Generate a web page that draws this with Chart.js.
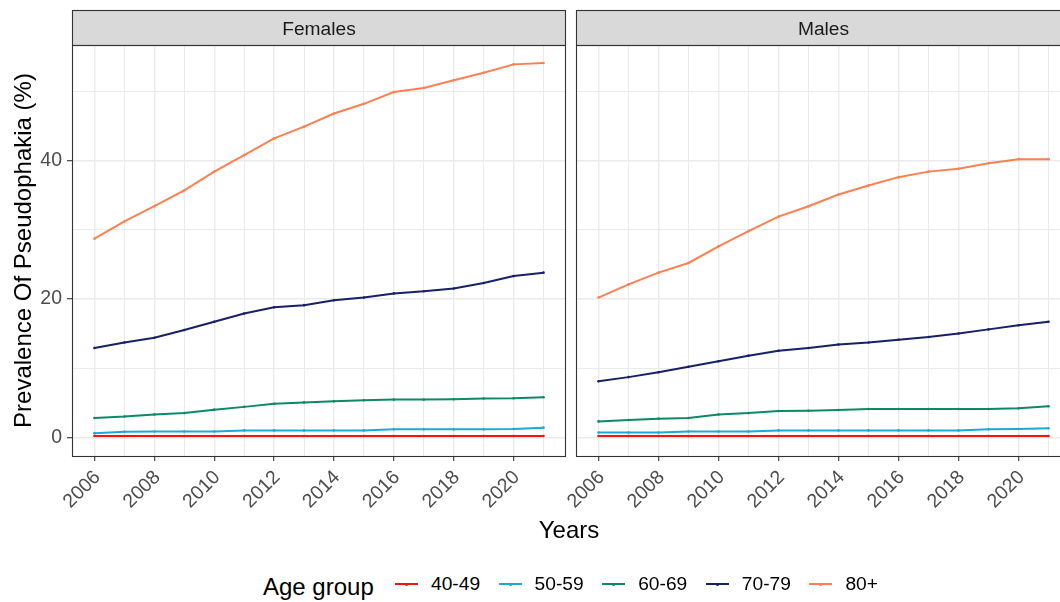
<!DOCTYPE html>
<html>
<head>
<meta charset="utf-8">
<title>Prevalence of pseudophakia</title>
<script src="https://cdn.jsdelivr.net/npm/chart.js@4.4.1/dist/chart.umd.min.js"></script>
<style>
    html, body { margin: 0; padding: 0; background: #fff; width: 1060px; height: 602px; overflow: hidden; }
    body { position: relative; font-family: "Liberation Sans", Arial, sans-serif; }
    .panel { position: absolute; top: 0; }
    #boxF { left: 0; }
    #boxM { left: 540px; }
    #xTitle { position: absolute; left: 469px; width: 200px; top: 516px; text-align: center;
              font-size: 24px; line-height: 28px; color: #000; }
    .legend-title { position: absolute; left: 263px; top: 573px; font-size: 24px; line-height: 28px; color: #000; }
    .key { position: absolute; top: 572px; width: 23px; height: 24px; }
    .key i { position: absolute; left: 0; right: 0; top: 11px; height: 2px; }
    .key b { position: absolute; left: 10px; top: 10.5px; width: 3px; height: 3px; border-radius: 50%; }
    .lab { position: absolute; top: 572px; font-size: 19.2px; line-height: 24px; color: #000; }
</style>
</head>
<body>
<div class="panel" id="boxF"><canvas id="chartF" width="572" height="530"></canvas></div>
<div class="panel" id="boxM"><canvas id="chartM" width="540" height="530"></canvas></div>
<div id="xTitle">Years</div>
<div id="legend"></div>

<script>
(function () {
    "use strict";

    // Data
    const years = [2006, 2007, 2008, 2009, 2010, 2011, 2012, 2013, 2014, 2015, 2016, 2017, 2018, 2019, 2020, 2021];
    const ageGroups = ["40-49", "50-59", "60-69", "70-79", "80+"];
    const yGridValues = [0, 10, 20, 30, 40, 50];
    const yLabelValues = [0, 20, 40];

    const females_40_49 = [0.2, 0.2, 0.2, 0.2, 0.2, 0.2, 0.2, 0.2, 0.2, 0.2, 0.2, 0.2, 0.2, 0.2, 0.2, 0.2];
    const females_50_59 = [0.6, 0.8, 0.85, 0.85, 0.85, 1.0, 1.0, 1.0, 1.0, 1.0, 1.15, 1.15, 1.15, 1.15, 1.2, 1.4];
    const females_60_69 = [2.8, 3.0, 3.3, 3.5, 4.0, 4.4, 4.85, 5.05, 5.2, 5.35, 5.45, 5.45, 5.5, 5.6, 5.65, 5.8];
    const females_70_79 = [12.9, 13.7, 14.4, 15.5, 16.7, 17.9, 18.8, 19.1, 19.8, 20.2, 20.8, 21.1, 21.5, 22.3, 23.3, 23.8];
    const females_80 = [28.7, 31.2, 33.4, 35.7, 38.4, 40.8, 43.2, 44.9, 46.8, 48.2, 49.9, 50.5, 51.6, 52.7, 53.9, 54.1];

    const males_40_49 = [0.2, 0.2, 0.2, 0.2, 0.2, 0.2, 0.2, 0.2, 0.2, 0.2, 0.2, 0.2, 0.2, 0.2, 0.2, 0.2];
    const males_50_59 = [0.7, 0.7, 0.7, 0.85, 0.85, 0.85, 1.0, 1.0, 1.0, 1.0, 1.0, 1.0, 1.0, 1.15, 1.2, 1.3];
    const males_60_69 = [2.3, 2.5, 2.7, 2.8, 3.3, 3.5, 3.8, 3.85, 3.95, 4.1, 4.1, 4.1, 4.1, 4.1, 4.2, 4.5];
    const males_70_79 = [8.1, 8.7, 9.4, 10.2, 11.0, 11.8, 12.5, 12.9, 13.4, 13.7, 14.1, 14.5, 15.0, 15.6, 16.2, 16.7];
    const males_80 = [20.2, 22.1, 23.8, 25.2, 27.6, 29.8, 31.9, 33.4, 35.1, 36.4, 37.6, 38.4, 38.8, 39.6, 40.2, 40.2];

    // Colors
    const groupColors = ["#F8130D", "#1CA9DA", "#0B8A68", "#17206A", "#FF7F50"];
    const gridColor = "#EBEBEB";
    const frameColor = "#333333";
    const tickTextColor = "#4D4D4D";

    Chart.defaults.font.family = '"Liberation Sans", Arial, sans-serif';
    Chart.defaults.animation = false;

    // Draws the facet strip and the panel border
    const stripPlugin = {
        id: "strip",
        afterDraw(chart, args, opts) {
            const ctx = chart.ctx;
            const a = chart.chartArea;
            ctx.save();
            ctx.fillStyle = "#D9D9D9";
            ctx.fillRect(a.left, 10, a.right - a.left, a.top - 10);
            ctx.strokeStyle = frameColor;
            ctx.lineWidth = 1.1;
            ctx.strokeRect(a.left + 0.5, 10.5, a.right - a.left - 1, a.top - 10);
            ctx.strokeRect(a.left + 0.5, a.top + 0.5, a.right - a.left - 1, a.bottom - a.top);
            ctx.fillStyle = "#1A1A1A";
            ctx.font = '19.2px "Liberation Sans", Arial, sans-serif';
            ctx.textAlign = "center";
            ctx.textBaseline = "alphabetic";
            ctx.fillText(opts.text, (a.left + a.right) / 2, 35);
            ctx.restore();
        },
    };

    function makeDatasets(series) {
        return series.map(function (vals, i) {
            return {
                label: ageGroups[i],
                data: years.map(function (yr, j) { return { x: yr, y: vals[j] }; }),
                borderColor: groupColors[i],
                backgroundColor: groupColors[i],
                borderWidth: 2,
                pointRadius: 1.3,
                pointBorderWidth: 0,
                tension: 0,
            };
        });
    }

    function xScale() {
        return {
            type: "linear",
            min: 2005.25,
            max: 2021.75,
            afterBuildTicks: function (s) { s.ticks = years.map(function (v) { return { value: v }; }); },
            afterFit: function (s) { s.height = 74; s.paddingLeft = 0; s.paddingRight = 0; },
            border: { display: false },
            grid: {
                color: gridColor,
                lineWidth: function (c) { return c.tick && c.tick.value % 2 === 0 ? 1.4 : 1; },
                tickColor: function (c) { return c.tick && c.tick.value % 2 === 0 ? frameColor : "rgba(0,0,0,0)"; },
                tickLength: 5,
                tickWidth: 1.1,
            },
            ticks: {
                autoSkip: false,
                minRotation: 45,
                maxRotation: 45,
                padding: 5,
                labelOffset: 3,
                color: tickTextColor,
                font: { size: 19.5 },
                callback: function (v) { return v % 2 === 0 ? String(v) : ""; },
            },
        };
    }

    function yScale(showLabels, axisWidth) {
        return {
            type: "linear",
            min: -2.7,
            max: 56.7,
            afterBuildTicks: function (s) { s.ticks = yGridValues.map(function (v) { return { value: v }; }); },
            afterFit: function (s) { s.width = axisWidth; },
            border: { display: false },
            grid: {
                color: gridColor,
                lineWidth: function (c) { return c.tick && yLabelValues.indexOf(c.tick.value) >= 0 ? 1.4 : 1; },
                tickColor: function (c) { return c.tick && yLabelValues.indexOf(c.tick.value) >= 0 ? frameColor : "rgba(0,0,0,0)"; },
                tickLength: showLabels ? 5 : 0,
                drawTicks: showLabels,
                tickWidth: 1.1,
            },
            ticks: {
                display: showLabels,
                padding: 5,
                color: tickTextColor,
                font: { size: 19.5 },
                callback: function (v) { return yLabelValues.indexOf(v) >= 0 ? String(v) : ""; },
            },
            title: {
                display: showLabels,
                text: "Prevalence Of Pseudophakia (%)",
                color: "#000",
                font: { size: 24 },
                padding: { top: 10, bottom: 0 },
            },
        };
    }

    function makeChart(id, title, series, showY, axisWidth, pad) {
        return new Chart(document.getElementById(id).getContext("2d"), {
            type: "line",
            data: { datasets: makeDatasets(series) },
            options: {
                responsive: false,
                layout: { padding: pad },
                plugins: {
                    legend: { display: false },
                    tooltip: { enabled: false },
                    strip: { text: title },
                },
                scales: { x: xScale(), y: yScale(showY, axisWidth) },
            },
            plugins: [stripPlugin],
        });
    }

    makeChart("chartF", "Females",
        [females_40_49, females_50_59, females_60_69, females_70_79, females_80],
        true, 72, { top: 45, right: 6, left: 0, bottom: 0 });
    makeChart("chartM", "Males",
        [males_40_49, males_50_59, males_60_69, males_70_79, males_80],
        false, 36, { top: 45, right: 9, left: 0, bottom: 0 });

    // Legend
    const legend = document.getElementById("legend");
    let html = '<div class="legend-title">Age group</div>';
    ageGroups.forEach(function (g, i) {
        const x = 395 + i * 103.6;
        html += '<div class="key" style="left:' + x + 'px"><i style="background:' + groupColors[i] +
            '"></i><b style="background:' + groupColors[i] + '"></b></div>';
        html += '<div class="lab" style="left:' + (x + 36) + 'px">' + g + "</div>";
    });
    legend.innerHTML = html;
})();
</script>
</body>
</html>
